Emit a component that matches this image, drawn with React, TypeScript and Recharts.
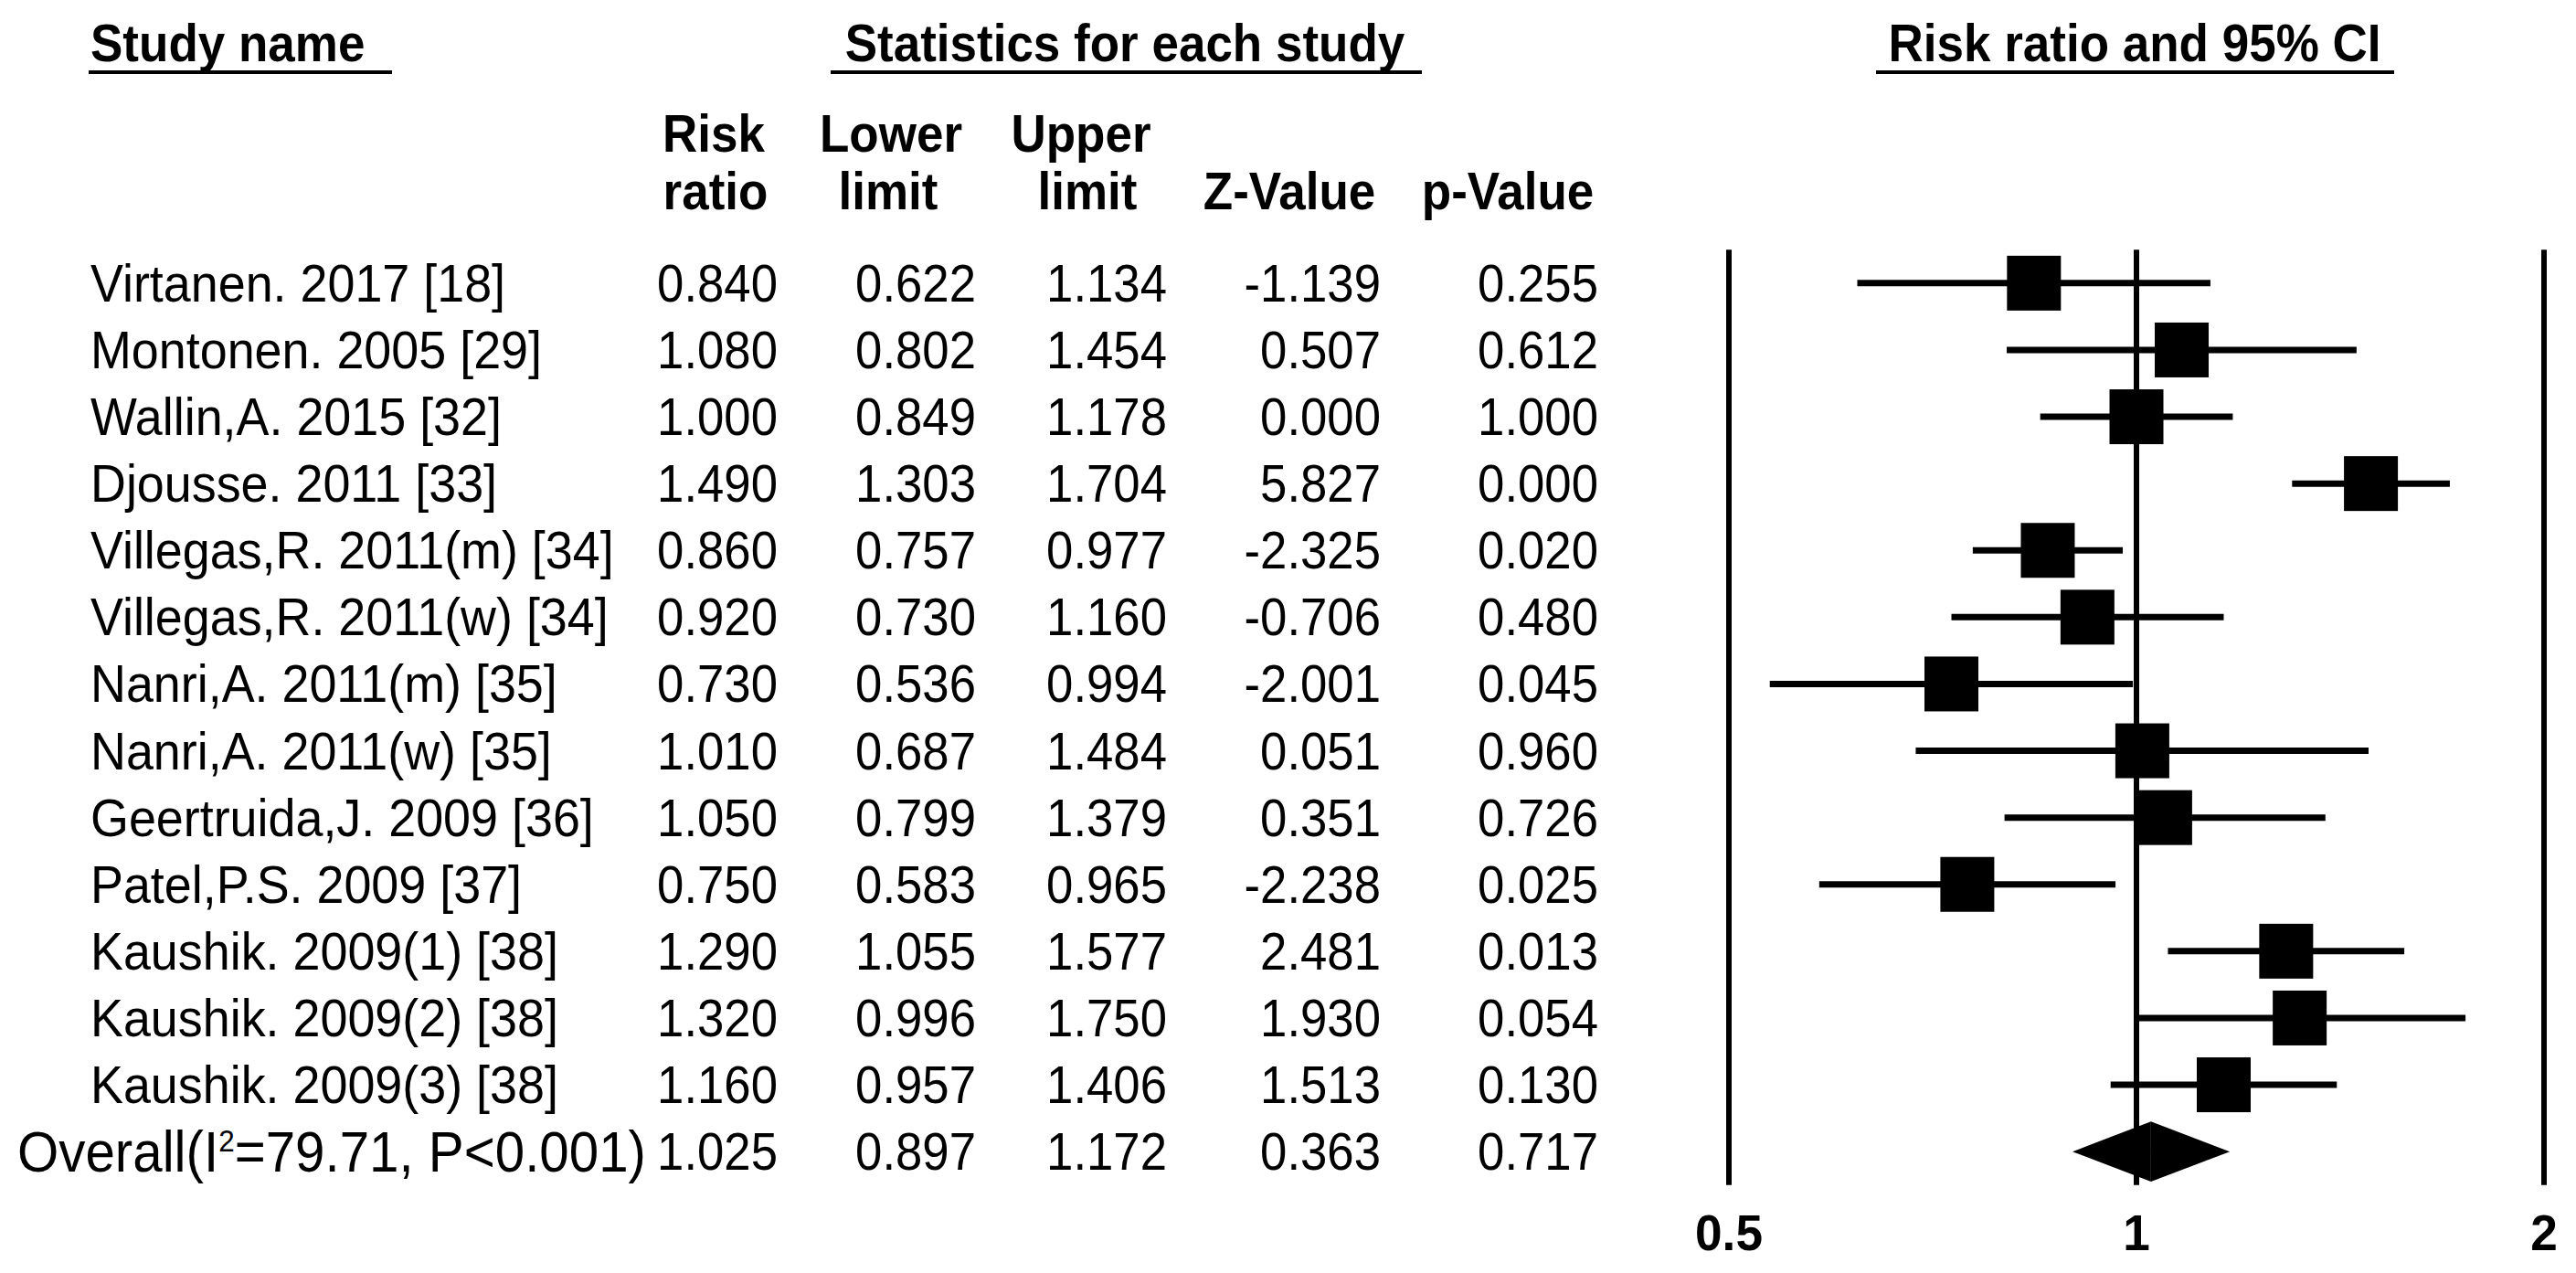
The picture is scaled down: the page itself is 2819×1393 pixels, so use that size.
import React from 'react';
import { ScatterChart, Scatter, XAxis, YAxis, ReferenceLine, ReferenceArea } from 'recharts';

const studyNames = [
  'Virtanen. 2017 [18]',
  'Montonen. 2005 [29]',
  'Wallin,A. 2015 [32]',
  'Djousse. 2011 [33]',
  'Villegas,R. 2011(m) [34]',
  'Villegas,R. 2011(w) [34]',
  'Nanri,A. 2011(m) [35]',
  'Nanri,A. 2011(w) [35]',
  'Geertruida,J. 2009 [36]',
  'Patel,P.S. 2009 [37]',
  'Kaushik. 2009(1) [38]',
  'Kaushik. 2009(2) [38]',
  'Kaushik. 2009(3) [38]',
];
const riskRatio = [0.84, 1.08, 1.0, 1.49, 0.86, 0.92, 0.73, 1.01, 1.05, 0.75, 1.29, 1.32, 1.16];
const lowerLimit = [0.622, 0.802, 0.849, 1.303, 0.757, 0.73, 0.536, 0.687, 0.799, 0.583, 1.055, 0.996, 0.957];
const upperLimit = [1.134, 1.454, 1.178, 1.704, 0.977, 1.16, 0.994, 1.484, 1.379, 0.965, 1.577, 1.75, 1.406];
const zValue = [-1.139, 0.507, 0.0, 5.827, -2.325, -0.706, -2.001, 0.051, 0.351, -2.238, 2.481, 1.93, 1.513];
const pValue = [0.255, 0.612, 1.0, 0.0, 0.02, 0.48, 0.045, 0.96, 0.726, 0.025, 0.013, 0.054, 0.13];

const overallRR = 1.025;
const overallLower = 0.897;
const overallUpper = 1.172;
const overallZ = 0.363;
const overallP = 0.717;

const axisTicks = [0.5, 1, 2];

const W = 2819;
const H = 1393;
const FONT = 'Arial, "Liberation Sans", Helvetica, sans-serif';
const SX = 0.925; // the source text is slightly condensed
const DIAMOND_HALF = 0.45;

// right edges of the numeric columns
const colRight = [851, 1068, 1277, 1511, 1749];

const studyRows = studyNames.map((name, i) => ({
  x: riskRatio[i],
  y: i,
  lower: lowerLimit[i],
  upper: upperLimit[i],
}));

const tableRows = [
  ...studyNames.map((name, i) => ({
    x: 1,
    y: i,
    name,
    vals: [riskRatio[i], lowerLimit[i], upperLimit[i], zValue[i], pValue[i]],
    overall: false,
  })),
  {
    x: 1,
    y: studyNames.length,
    name: 'Overall',
    vals: [overallRR, overallLower, overallUpper, overallZ, overallP],
    overall: true,
  },
];

const T = ({ x, y, size, anchor = 'start', bold = false, sx = SX, children }: any) => (
  <text
    transform={`translate(${x},${y}) scale(${sx},1)`}
    textAnchor={anchor}
    fontFamily={FONT}
    fontSize={size}
    fontWeight={bold ? 'bold' : 'normal'}
    fill="#000"
  >
    {children}
  </text>
);

const TableRow = (props: any) => {
  const { cy, payload } = props;
  const y = cy + 20;
  return (
    <g>
      {payload.overall ? (
        <T x={19} y={y + 2} size={63}>
          Overall(I
          <tspan dy={-22} fontSize={34}>2</tspan>
          <tspan dy={22}>=79.71, P&lt;0.001)</tspan>
        </T>
      ) : (
        <T x={99} y={y} size={57} sx={0.945}>{payload.name}</T>
      )}
      {payload.vals.map((v: number, k: number) => (
        <T key={k} x={colRight[k]} y={y} size={57} anchor="end">
          {v.toFixed(3)}
        </T>
      ))}
    </g>
  );
};

const BoxShape = (props: any) => {
  const { cx, cy } = props;
  return <rect x={cx - 29.5} y={cy - 30} width={59} height={60} fill="#000" />;
};

const LeftHalf = (p: any) => (
  <polygon
    points={`${p.x},${p.y + p.height / 2} ${p.x + p.width},${p.y} ${p.x + p.width},${p.y + p.height}`}
    fill="#000"
  />
);
const RightHalf = (p: any) => (
  <polygon
    points={`${p.x},${p.y} ${p.x + p.width},${p.y + p.height / 2} ${p.x},${p.y + p.height}`}
    fill="#000"
  />
);

const AxisTick = (props: any) => {
  const { x, y, payload } = props;
  return (
    <T x={x} y={y + 63} size={56} anchor="middle" bold sx={0.95}>
      {String(payload.value)}
    </T>
  );
};

const Headers = () => (
  <svg width={W} height={H} style={{ position: 'absolute', left: 0, top: 0 }}>
    <T x={99} y={67} size={57} bold sx={0.93}>Study name</T>
    <rect x={97} y={77} width={332} height={4} />
    <T x={1231} y={67} size={57} bold sx={0.93} anchor="middle">Statistics for each study</T>
    <rect x={909} y={77} width={647} height={4} />
    <T x={2336} y={67} size={57} bold sx={0.93} anchor="middle">Risk ratio and 95% CI</T>
    <rect x={2053} y={77} width={567} height={4} />

    <T x={781} y={166} size={57} bold sx={0.93} anchor="middle">Risk</T>
    <T x={783} y={229} size={57} bold sx={0.93} anchor="middle">ratio</T>
    <T x={975} y={166} size={57} bold sx={0.93} anchor="middle">Lower</T>
    <T x={972} y={229} size={57} bold sx={0.93} anchor="middle">limit</T>
    <T x={1183} y={166} size={57} bold sx={0.93} anchor="middle">Upper</T>
    <T x={1190} y={229} size={57} bold sx={0.93} anchor="middle">limit</T>
    <T x={1411} y={229} size={57} bold sx={0.93} anchor="middle">Z-Value</T>
    <T x={1650} y={229} size={57} bold sx={0.93} anchor="middle">p-Value</T>
  </svg>
);

export default function App() {
  return (
    <div style={{ position: 'absolute', left: 0, top: 0, width: W, height: H, background: '#fff' }}>
      <Headers />
      <div style={{ position: 'absolute', left: 0, top: 0 }}>
        <ScatterChart
          width={W}
          height={H}
          margin={{ top: 273.3, right: 35, bottom: 36.3, left: 1892 }}
        >
          <XAxis
            type="number"
            dataKey="x"
            scale="log"
            domain={[0.5, 2]}
            ticks={axisTicks}
            interval={0}
            axisLine={false}
            tickLine={false}
            height={60}
            tick={<AxisTick />}
          />
          <YAxis type="number" dataKey="y" domain={[-0.5, 13.5]} reversed hide />

          {axisTicks.map((t) => (
            <ReferenceLine key={`v${t}`} x={t} stroke="#000" strokeWidth={6} />
          ))}

          {studyRows.map((r) => (
            <ReferenceLine
              key={`w${r.y}`}
              segment={[
                { x: r.lower, y: r.y },
                { x: r.upper, y: r.y },
              ]}
              stroke="#000"
              strokeWidth={7}
            />
          ))}

          <ReferenceArea
            x1={overallLower}
            x2={overallRR}
            y1={studyNames.length - DIAMOND_HALF}
            y2={studyNames.length + DIAMOND_HALF}
            shape={<LeftHalf />}
          />
          <ReferenceArea
            x1={overallRR}
            x2={overallUpper}
            y1={studyNames.length - DIAMOND_HALF}
            y2={studyNames.length + DIAMOND_HALF}
            shape={<RightHalf />}
          />

          <Scatter data={studyRows} shape={<BoxShape />} isAnimationActive={false} />
          <Scatter data={tableRows} shape={<TableRow />} isAnimationActive={false} />
        </ScatterChart>
      </div>
    </div>
  );
}
